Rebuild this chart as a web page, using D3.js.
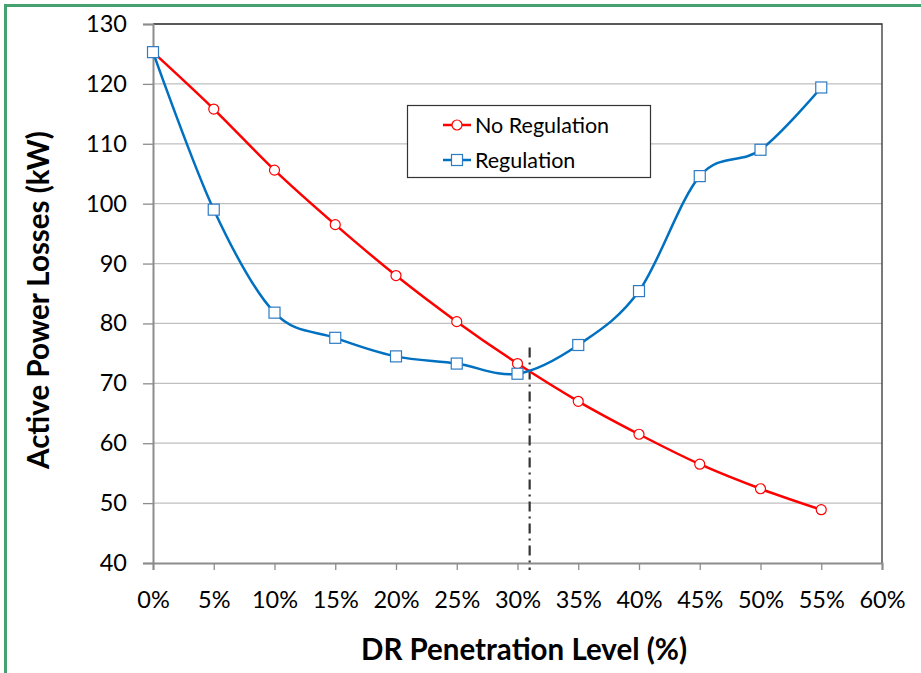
<!DOCTYPE html>
<html><head><meta charset="utf-8">
<script src="https://cdn.jsdelivr.net/npm/d3@7/dist/d3.min.js"></script>
<style>body{margin:0;background:#fff}svg{display:block}text{font-family:Lato,"Open Sans",sans-serif}</style>
</head><body><svg id="c" width="921" height="673"></svg>
<script>
const penetration = [0,5,10,15,20,25,30,35,40,45,50,55];
const noRegulation = [125.3,115.8,105.6,96.5,88.0,80.3,73.3,67.0,61.5,56.5,52.4,48.9];
const regulation = [125.3,99.0,81.8,77.6,74.5,73.3,71.6,76.4,85.4,104.6,109.0,119.4];
const xTicks = [0,5,10,15,20,25,30,35,40,45,50,55,60];
const yTicks = [40,50,60,70,80,90,100,110,120,130];
const optimum = {x:31, yTop:76};

const svg = d3.select("#c");
svg.append("path").attr("d","M5.5,673V5.5H921").attr("fill","none").attr("stroke","#45A270").attr("stroke-width",3);

const L=153, R=882, T=24, B=563;
const x = d3.scaleLinear().domain([0,60]).range([L,R]);
const y = d3.scaleLinear().domain([40,130]).range([B,T]);

svg.append("g").selectAll("line").data(yTicks.slice(1)).join("line")
  .attr("x1",L).attr("x2",R).attr("y1",d=>y(d)).attr("y2",d=>y(d))
  .attr("stroke","#BFBFBF").attr("stroke-width",1.3);
svg.append("path").attr("d",`M${L},${T}H${R}V${B}`).attr("fill","none").attr("stroke","#333").attr("stroke-width",1.3);

const yAxis = svg.append("g").attr("transform",`translate(${L},0)`)
  .call(d3.axisLeft(y).tickValues(yTicks).tickSize(10).tickPadding(16).tickFormat(d3.format("d")));
const xAxis = svg.append("g").attr("transform",`translate(0,${B})`)
  .call(d3.axisBottom(x).tickValues(xTicks).tickSize(7).tickPadding(21).tickFormat(d=>d+"%"));
[yAxis,xAxis].forEach(a=>{
  a.attr("font-size",23.5);
  a.select(".domain").attr("stroke","#8C8C8C").attr("stroke-width",2);
  a.selectAll(".tick line").attr("stroke","#8C8C8C").attr("stroke-width",1.3);
  a.selectAll("text").attr("font-size",23.5).attr("fill","#000").style("font-family","Lato,'Open Sans',sans-serif");
});

svg.append("line").attr("x1",x(optimum.x)).attr("x2",x(optimum.x)).attr("y1",y(optimum.yTop)).attr("y2",B+7)
  .attr("stroke","#333").attr("stroke-width",2.2).attr("stroke-dasharray","10,5,2,5");

const line = d3.line().x((d,i)=>x(penetration[i])).y(d=>y(d)).curve(d3.curveCatmullRom.alpha(0));
svg.append("path").attr("d",line(noRegulation)).attr("fill","none").attr("stroke","#FF0000").attr("stroke-width",2.5);
svg.append("path").attr("d",line(regulation)).attr("fill","none").attr("stroke","#0070C0").attr("stroke-width",2.5);

svg.append("g").selectAll("circle").data(noRegulation).join("circle")
  .attr("cx",(d,i)=>x(penetration[i])).attr("cy",d=>y(d)).attr("r",5)
  .attr("fill","#fff").attr("stroke","#FF0000").attr("stroke-width",1.2);
svg.append("g").selectAll("rect").data(regulation).join("rect")
  .attr("x",(d,i)=>x(penetration[i])-5.5).attr("y",d=>y(d)-5.5).attr("width",11).attr("height",11)
  .attr("fill","#fff").attr("stroke","#2E7BC4").attr("stroke-width",1.2);

const lg = svg.append("g");
lg.append("rect").attr("x",407.5).attr("y",105.5).attr("width",243).attr("height",72).attr("fill","#fff").attr("stroke","#333").attr("stroke-width",1.2);
const items=[{name:"No Regulation",c:"#FF0000",m:"circle"},{name:"Regulation",c:"#0070C0",m:"rect"}];
items.forEach((it,i)=>{
  const cy = 125+i*35;
  lg.append("line").attr("x1",443).attr("x2",471).attr("y1",cy).attr("y2",cy).attr("stroke",it.c).attr("stroke-width",2.5);
  if(it.m==="circle") lg.append("circle").attr("cx",457).attr("cy",cy).attr("r",5).attr("fill","#fff").attr("stroke",it.c).attr("stroke-width",1.2);
  else lg.append("rect").attr("x",451.5).attr("y",cy-5.5).attr("width",11).attr("height",11).attr("fill","#fff").attr("stroke","#2E7BC4").attr("stroke-width",1.2);
  lg.append("text").attr("x",475).attr("y",cy+8).attr("font-size",21.5).text(it.name);
});

svg.append("text").attr("x",524).attr("y",660).attr("text-anchor","middle").attr("font-size",29.5).attr("font-weight","bold").text("DR Penetration Level (%)");
svg.append("text").attr("transform","translate(49,300) rotate(-90)").attr("text-anchor","middle").attr("font-size",29.5).attr("font-weight","bold").text("Active Power Losses (kW)");
</script></body></html>
